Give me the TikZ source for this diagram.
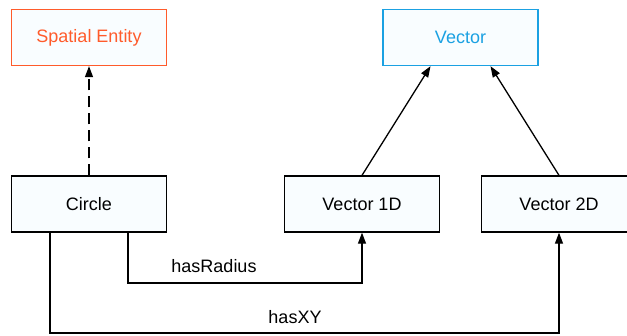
\documentclass[tikz,border=0pt]{standalone}
\usepackage{fontspec}
\setmainfont{Liberation Sans}
\usetikzlibrary{arrows.meta}
\definecolor{boxfill}{HTML}{F9FDFF}
\definecolor{entityorange}{HTML}{FF5B2B}
\definecolor{vectorblue}{HTML}{1BA1E2}
\begin{document}
\begin{tikzpicture}[x=1pt,y=-1pt,
  classbox/.style={draw=black,fill=boxfill,line width=1.3pt,minimum width=155pt,minimum height=56pt,inner sep=0pt,font=\fontsize{18}{21}\selectfont},
  conn/.style={line width=1.3pt,-{Triangle[length=11pt,width=8pt]}},
  lbl/.style={font=\fontsize{18}{21}\selectfont,inner sep=0pt}]
\useasboundingbox (0,0) rectangle (627,335);
% class boxes
\node[classbox,draw=entityorange,text=entityorange] (spatial) at (89,37.5) {Spatial Entity};
\node[classbox,draw=vectorblue,text=vectorblue] (vector) at (460.5,37.5) {Vector};
\node[classbox] (circle) at (89,204) {Circle};
\node[classbox] (v1d) at (362,204) {Vector 1D};
\node[classbox] (v2d) at (559,204) {Vector 2D};
% inheritance
\draw[conn,dashed,dash pattern=on 11pt off 6pt] (circle.north) -- (spatial.south);
\draw[conn] (v1d.north) -- ([xshift=-30pt]vector.south);
\draw[conn] (v2d.north) -- ([xshift=30pt]vector.south);
% properties
\coordinate (rstart) at ([xshift=39pt]circle.south);
\coordinate (xystart) at ([xshift=-39pt]circle.south);
\draw[conn] (rstart) |- (362,283) -- (v1d.south);
\draw[conn] (xystart) |- (559,333) -- (v2d.south);
\node[lbl] (lradius) at (214,266) {hasRadius};
\node[lbl] (lxy) at (295,317) {hasXY};
\end{tikzpicture}
\end{document}
